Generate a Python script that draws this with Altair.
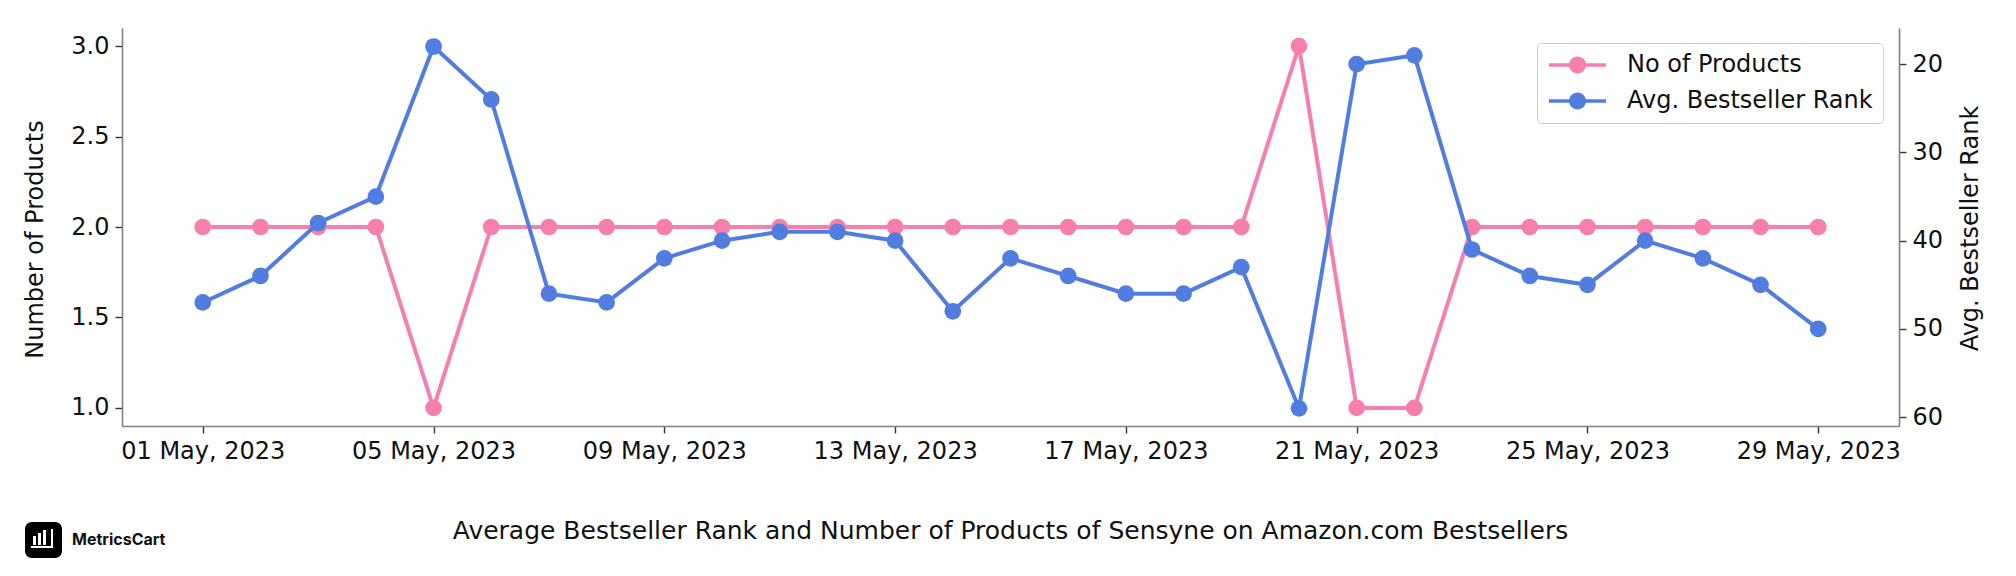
import altair as alt
import pandas as pd

# ---- data ----
days = [1, 2, 3, 4, 5, 6, 7, 8, 9, 10, 11, 12, 13, 14, 15, 16, 17, 18, 19, 20,
        21, 22, 23, 24, 25, 26, 27, 28, 29]
products = [2, 2, 2, 2, 1, 2, 2, 2, 2, 2, 2, 2, 2, 2, 2, 2, 2, 2, 2, 3,
            1, 1, 2, 2, 2, 2, 2, 2, 2]
ranks = [47, 44, 38, 35, 18, 24, 46, 47, 42, 40, 39, 39, 40, 48, 42, 44, 46, 46, 43, 59,
         20, 19, 41, 44, 45, 40, 42, 45, 50]
series_names = ["No of Products", "Avg. Bestseller Rank"]
colors = ["#F67FAE", "#527DE0"]
tick_days = [1, 5, 9, 13, 17, 21, 25, 29]
left_ticks = [1.0, 1.5, 2.0, 2.5, 3.0]
right_ticks = [20, 30, 40, 50, 60]
title_text = "Average Bestseller Rank and Number of Products of Sensyne on Amazon.com Bestsellers"
brand = "MetricsCart"

dates = [f"2023-05-{d:02d}T00:00:00" for d in days]
df_p = pd.DataFrame({"date": dates, "value": products, "series": series_names[0]})
df_r = pd.DataFrame({"date": dates, "value": ranks, "series": series_names[1]})

FONT = "DejaVu Sans"
W, H = 1777, 398

x_enc = alt.X(
    "date:T",
    scale=alt.Scale(domain=[alt.DateTime(year=2023, month=4, date=29, hours=14, minutes=24),
                            alt.DateTime(year=2023, month=5, date=30, hours=9, minutes=36)]),
    axis=alt.Axis(values=[alt.DateTime(year=2023, month=5, date=d) for d in tick_days],
                  format="%d %b, %Y", title=None, labelFlush=False),
)

color_enc = alt.Color(
    "series:N",
    scale=alt.Scale(domain=series_names, range=colors),
    legend=alt.Legend(
        title=None, orient="none", legendX=1415, legendY=15,
        symbolType="M-1,-0.18L4.7,-0.18L4.7,0.18L-1,0.18Z M2.7,0A0.85,0.85 0 1,1 1.0,0A0.85,0.85 0 1,1 2.7,0Z",
        symbolSize=400, symbolStrokeWidth=0, symbolOpacity=1,
        labelFont=FONT, labelFontSize=24, labelColor="#111111", labelOffset=56,
        labelLimit=500, rowPadding=12, padding=10, strokeColor="#cccccc", fillColor="white",
        cornerRadius=4,
    ),
)

y_left = alt.Y(
    "value:Q",
    scale=alt.Scale(domain=[0.9, 3.1], nice=False, zero=False),
    axis=alt.Axis(title="Number of Products", values=left_ticks, format=".1f",
                  titleAngle=270, titleX=-75, titleY=211),
)
y_right = alt.Y(
    "value:Q",
    scale=alt.Scale(domain=[15.9, 61.0], nice=False, zero=False, reverse=True),
    axis=alt.Axis(title="Avg. Bestseller Rank", values=right_ticks, orient="right",
                  titleAngle=270, titleX=83, titleY=200),
)

line_p = alt.Chart(df_p).mark_line(color=colors[0], strokeWidth=4).encode(x=x_enc, y=y_left)
pt_p = alt.Chart(df_p).mark_point(filled=True, size=280, opacity=1).encode(x=x_enc, y=y_left, color=color_enc)
line_r = alt.Chart(df_r).mark_line(color=colors[1], strokeWidth=4).encode(x=x_enc, y=y_right)
pt_r = alt.Chart(df_r).mark_point(filled=True, size=280, opacity=1).encode(x=x_enc, y=y_right, color=color_enc)

layer_p = alt.layer(line_p, pt_p)
layer_r = alt.layer(line_r, pt_r)

one = pd.DataFrame({"k": [0]})
logo_box = alt.Chart(one).mark_rect(color="black", cornerRadius=7).encode(
    x=alt.value(-97), x2=alt.value(-60), y=alt.value(494), y2=alt.value(530))
bar_x = [-89, -84, -79]
bar_top = [508, 505, 502]
logo_bars = [
    alt.Chart(one).mark_rect(color="white").encode(
        x=alt.value(bx), x2=alt.value(bx + 3), y=alt.value(bt), y2=alt.value(517))
    for bx, bt in zip(bar_x, bar_top)
]
logo_base = alt.Chart(one).mark_rect(color="white").encode(
    x=alt.value(-91), x2=alt.value(-69), y=alt.value(518), y2=alt.value(520))
logo_handle = alt.Chart(one).mark_rect(color="white").encode(
    x=alt.value(-71), x2=alt.value(-69), y=alt.value(501), y2=alt.value(520))
brand_text = alt.Chart(one).mark_text(
    text=brand, font="Inter", fontWeight="bold", fontSize=16, align="left", baseline="middle",
    color="#111111").encode(x=alt.value(-50), y=alt.value(512))
title_mark = alt.Chart(one).mark_text(
    text=title_text, font=FONT, fontSize=25, align="center", baseline="middle",
    color="#111111").encode(x=alt.value(W / 2), y=alt.value(503))

chart = alt.layer(
    layer_p, layer_r, logo_box, *logo_bars, logo_base, logo_handle, brand_text, title_mark
).resolve_scale(y="independent").properties(
    width=W, height=H,
    autosize=alt.AutoSizeParams(type="none"),
    padding={"left": 114, "top": 20, "right": 109, "bottom": 135},
).configure_view(stroke=None).configure_axis(
    grid=False, domainColor="#808080", domainWidth=1.6, tickColor="#333333", tickWidth=1.4,
    tickSize=7, labelFont=FONT, labelFontSize=24, labelColor="#111111", labelPadding=6,
    titleFont=FONT, titleFontSize=24, titleFontWeight="normal", titleColor="#111111",
)

chart.save("out.html", embed_options={"renderer": "svg", "actions": False})
